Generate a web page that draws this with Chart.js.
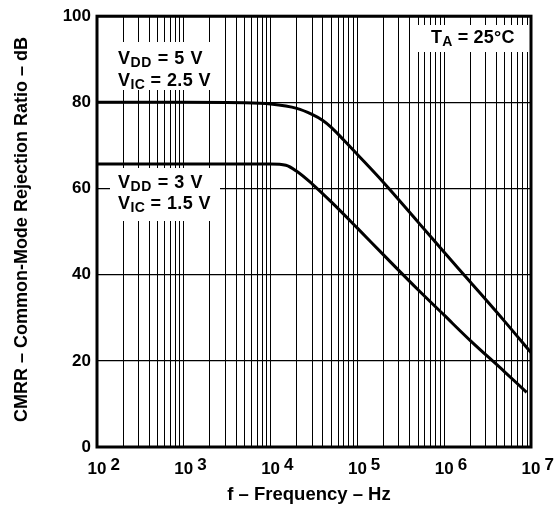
<!DOCTYPE html>
<html>
<head>
<meta charset="utf-8">
<script src="https://cdn.jsdelivr.net/npm/chart.js@4.4.1/dist/chart.umd.min.js"></script>
<style>
  body { margin: 0; background: #fff; }
  #wrap { width: 560px; height: 513px; }
</style>
</head>
<body>
<div id="wrap"><canvas id="cmrr" width="560" height="513"></canvas></div>
<script>
// values
const freq5 = [100, 1000, 5000, 10000, 20000, 30000, 40000, 50000, 70000, 100000, 200000, 500000, 1e6, 2e6, 5e6, 1e7];
const cmrr5 = [80, 80, 79.9, 79.6, 78.6, 77.2, 75.8, 74.2, 71.2, 67.9, 61.4, 52.2, 45.2, 38.3, 29.1, 21.9];

const freq3 = [100, 1000, 5000, 10000, 15000, 20000, 30000, 50000, 100000, 200000, 500000, 1e6, 2e6, 5e6, 8.9e6];
const cmrr3 = [65.7, 65.7, 65.7, 65.7, 65.4, 64.0, 61.1, 56.9, 50.8, 44.6, 36.5, 30.6, 24.7, 17.4, 12.7];

const decades = [2, 3, 4, 5, 6, 7];
const yTicks = [0, 20, 40, 60, 80, 100];

const xTitle = 'f \u2013 Frequency \u2013 Hz';
const yTitle = 'CMRR \u2013 Common-Mode Rejection Ratio \u2013 dB';

const FONT = '"Liberation Sans", Arial, sans-serif';

// grid lines at 1..9 x 10^n
const gridFreqs = [];
decades.slice(0, -1).forEach(e => {
    for (let m = 1; m <= 9; m++) gridFreqs.push(m * Math.pow(10, e));
});
gridFreqs.push(Math.pow(10, decades[decades.length - 1]));

function toPoints(xs, ys) {
    return xs.map((x, i) => ({ x: x, y: ys[i] }));
}

// text with a subscript part, e.g. V + DD + " = 5 V"
function subText(ctx, x, y, main, sub, rest, spacing) {
    ctx.letterSpacing = spacing;
    ctx.font = 'bold 18px ' + FONT;
    ctx.fillText(main, x, y);
    x += ctx.measureText(main).width;
    ctx.font = 'bold 14px ' + FONT;
    ctx.fillText(sub, x, y + 3);
    x += ctx.measureText(sub).width;
    ctx.font = 'bold 18px ' + FONT;
    ctx.fillText(rest, x, y);
    ctx.letterSpacing = '0px';
}

const boxes = [
    { x: 112, y: 42, w: 104, h: 48 },
    { x: 110, y: 168, w: 110, h: 53 },
    { x: 415, y: 25, w: 113, h: 27 }
];

const overlay = {
    id: 'overlay',
    beforeDatasetsDraw(chart) {
        const ctx = chart.ctx;
        ctx.save();
        ctx.fillStyle = '#fff';
        boxes.forEach(b => ctx.fillRect(b.x, b.y, b.w, b.h));
        ctx.restore();
    },
    afterDraw(chart) {
        const ctx = chart.ctx;
        const a = chart.chartArea;
        const xs = chart.scales.x;
        ctx.save();

        // frame
        ctx.strokeStyle = '#000';
        ctx.lineWidth = 3;
        ctx.strokeRect(a.left, a.top, a.right - a.left, a.bottom - a.top);

        ctx.fillStyle = '#000';
        ctx.textBaseline = 'alphabetic';

        // x tick labels 10^n
        decades.forEach(e => {
            const px = xs.getPixelForValue(Math.pow(10, e));
            ctx.font = 'bold 17px ' + FONT;
            const w = ctx.measureText('10').width;
            ctx.textAlign = 'left';
            ctx.fillText('10', px - w / 2, 474);
            ctx.fillText(String(e), px + w / 2 + 4, 470);
        });

        // axis titles
        ctx.font = 'bold 18.5px ' + FONT;
        ctx.textAlign = 'center';
        ctx.fillText(xTitle, (a.left + a.right) / 2 - 5, 500);

        ctx.font = 'bold 18px ' + FONT;
        ctx.save();
        ctx.translate(27, (a.top + a.bottom) / 2 - 2);
        ctx.rotate(-Math.PI / 2);
        ctx.fillText(yTitle, 0, 0);
        ctx.restore();

        // annotations
        ctx.textAlign = 'left';
        subText(ctx, 118, 64, 'V', 'DD', ' = 5 V', '0.6px');
        subText(ctx, 118, 86, 'V', 'IC', ' = 2.5 V', '0.4px');
        subText(ctx, 118, 188, 'V', 'DD', ' = 3 V', '0.6px');
        subText(ctx, 118, 209, 'V', 'IC', ' = 1.5 V', '0.4px');
        subText(ctx, 431, 43, 'T', 'A', ' = 25\u00B0C', '0.2px');

        ctx.restore();
    }
};

new Chart(document.getElementById('cmrr').getContext('2d'), {
    type: 'line',
    data: {
        datasets: [
            {
                label: 'VDD = 5 V',
                data: toPoints(freq5, cmrr5),
                borderColor: '#000',
                borderWidth: 3,
                pointRadius: 0,
                fill: false,
                cubicInterpolationMode: 'monotone'
            },
            {
                label: 'VDD = 3 V',
                data: toPoints(freq3, cmrr3),
                borderColor: '#000',
                borderWidth: 3,
                pointRadius: 0,
                fill: false,
                cubicInterpolationMode: 'monotone'
            }
        ]
    },
    options: {
        responsive: false,
        animation: false,
        events: [],
        layout: { padding: { top: 13, right: 29, left: 0, bottom: 0 } },
        plugins: {
            legend: { display: false },
            tooltip: { enabled: false }
        },
        scales: {
            x: {
                type: 'logarithmic',
                min: 100,
                max: 1e7,
                afterBuildTicks: scale => {
                    scale.ticks = gridFreqs.map(v => ({ value: v }));
                },
                afterFit: scale => { scale.height = 66; },
                ticks: { display: false },
                grid: { color: '#000', lineWidth: 1, drawTicks: false },
                border: { display: false }
            },
            y: {
                min: 0,
                max: 100,
                afterBuildTicks: scale => {
                    scale.ticks = yTicks.map(v => ({ value: v }));
                },
                afterFit: scale => { scale.width = 97; },
                ticks: {
                    color: '#000',
                    padding: 6,
                    font: { family: FONT, size: 17, weight: 'bold' }
                },
                grid: { color: '#000', lineWidth: 1.2, drawTicks: false },
                border: { display: false }
            }
        }
    },
    plugins: [overlay]
});
</script>
</body>
</html>
